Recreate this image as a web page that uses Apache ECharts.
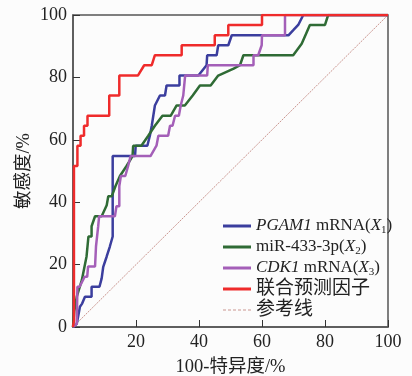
<!DOCTYPE html>
<html>
<head>
<meta charset="utf-8">
<script src="https://cdn.jsdelivr.net/npm/echarts@6/dist/echarts.min.js"></script>
<style>
  html, body { margin: 0; padding: 0; background: #fcfcfc; }
  #chart { width: 412px; height: 376px; }
</style>
</head>
<body>
<div id="chart"></div>
<script>
// ROC 曲线数据 [100-特异度, 敏感度]
var pgam1 = [[0, 0], [1.2, 1], [2.2, 6.5], [2.9, 7.5], [3.8, 9.7], [5.9, 9.7], [5.9, 12.9], [8.4, 12.9], [9.1, 15.6], [9.6, 19.3],
  [10.7, 22.6], [11.7, 25.8], [12.6, 29], [12.6, 54.8], [19.7, 54.8], [19.9, 58.1], [23.6, 58.1], [24.4, 61.3], [25, 64.5],
  [26, 71], [27.6, 74.2], [29.2, 74.2], [29.7, 77.4], [33.8, 77.4], [33.8, 80.6], [39.8, 80.6], [42.4, 83.9], [42.6, 87.1],
  [45.6, 87.1], [46.1, 90.3], [49.3, 90.3], [50.4, 93.5], [68.4, 93.5], [70, 95.2], [71.5, 96.8], [72, 96.8], [73.1, 100], [100, 100]]
var mir433 = [[0, 0], [0.4, 5], [1.2, 9.7], [2.8, 15], [4.3, 22.6], [4.9, 29], [5.9, 29], [5.9, 32.3], [7, 35.5], [9.1, 35.5],
  [10.7, 39], [11.2, 41.9], [12.3, 41.9], [13.5, 45.2], [14.9, 48.4], [17, 51.6], [18.9, 54.8], [19.1, 58.1], [21.7, 58.1],
  [23.9, 61.3], [26, 64.5], [28.4, 67.7], [31, 67.7], [32.9, 71], [35.5, 71], [38, 74.2], [40.3, 77.4], [43.7, 77.4],
  [46.1, 80.6], [51, 82.8], [53, 83.9], [54.1, 87.1], [69.9, 87.1], [72.6, 90.8], [74.2, 94.5], [75.2, 96.8], [80, 96.8],
  [81, 100], [100, 100]]
var cdk1 = [[0, 0], [1.2, 1], [1.4, 12.9], [2.1, 12.9], [3.7, 16.1], [4.5, 16.1], [4.8, 19.4], [7, 19.4], [7.3, 25.8], [8, 32.3],
  [8.3, 35.5], [13.3, 35.5], [13.8, 38.7], [14.7, 38.7], [14.7, 45.2], [15.2, 48.4], [16.6, 48.4], [17.5, 51.6], [18.3, 54.8],
  [24.6, 54.8], [26.5, 58.1], [27.1, 61.3], [30.2, 61.3], [30.8, 64.5], [31.6, 64.5], [32.4, 67.7], [33.6, 67.7], [34.2, 71],
  [35, 74.2], [35.6, 80.6], [42.6, 80.6], [42.8, 83.9], [57.3, 83.9], [57.3, 87.1], [58.8, 87.1], [59.9, 90.3], [60, 93.5],
  [67.3, 93.5], [67.3, 100], [100, 100]]
var combined = [[0, 0], [0.3, 2], [0.3, 51.6], [1.4, 51.6], [1.4, 58.1], [2.4, 58.1], [2.4, 61.3], [3.5, 61.3], [3.5, 64.5],
  [4.6, 64.5], [4.6, 67.7], [11.5, 67.7], [11.5, 74.2], [14.7, 74.2], [14.7, 80.6], [20.6, 80.6], [22.6, 83.9], [25, 83.9],
  [26, 87.1], [34.5, 87.1], [34.5, 90.3], [45, 90.3], [45, 93.5], [49.3, 93.5], [49.3, 96.8], [60, 96.8], [60, 100], [100, 100]]
var refLine = [[0, 0], [100, 100]]

var names = ['PGAM1 mRNA(X1)', 'miR-433-3p(X2)', 'CDK1 mRNA(X3)', '联合预测因子', '参考线']
var colors = ['#3b3e9e', '#2f6b35', '#a45fb8', '#ef2b2b', '#c9958f']

var serif = "'Liberation Serif', 'Noto Sans CJK SC', serif"
var chart = echarts.init(document.getElementById('chart'))

function lineSeries(i, data, width, type) {
  return {
    name: names[i],
    type: 'line',
    data: data,
    symbol: 'none',
    color: colors[i],
    lineStyle: { width: width, color: colors[i], type: type || 'solid' }
  }
}

// 图例：实线用 rect，参考线用虚线
var dashIcon = 'path://M0,0h3v1h-3zM5,0h3v1h-3zM10,0h3v1h-3zM15,0h3v1h-3zM20,0h3v1h-3zM25,0h3v1h-3z'
var legendData = names.map(function(n, i) {
  return { name: n, icon: i === 4 ? dashIcon : 'rect' }
})

var option = {
  animation: false,
  backgroundColor: '#fcfcfc',
  grid: {
    left: 73, right: 24, top: 15, bottom: 49,
    outerBoundsMode: 'none',
    show: true, borderColor: '#555', borderWidth: 1.5
  },
  legend: {
    orient: 'vertical',
    left: 218,
    top: 211,
    itemWidth: 28,
    itemHeight: 3,
    itemGap: 1,
    data: legendData,
    textStyle: {
      fontFamily: serif,
      fontSize: 17,
      lineHeight: 20,
      color: '#222',
      rich: {
        it: { fontFamily: serif, fontSize: 17, lineHeight: 20, fontStyle: 'italic', color: '#222' },
        sub: { fontFamily: serif, fontSize: 11, lineHeight: 20, verticalAlign: 'bottom', padding: [6, 0, 0, 0], color: '#222' },
        cn: { fontFamily: serif, fontSize: 19, lineHeight: 20, color: '#222' }
      }
    },
    formatter: function(name) {
      if (name === names[0]) return '{it|PGAM1} mRNA({it|X}{sub|1})'
      if (name === names[1]) return 'miR-433-3p({it|X}{sub|2})'
      if (name === names[2]) return '{it|CDK1} mRNA({it|X}{sub|3})'
      return '{cn|' + name + '}'
    }
  },
  xAxis: {
    type: 'value',
    min: 0,
    max: 100,
    interval: 20,
    name: '100-特异度/%',
    nameLocation: 'middle',
    nameGap: 31,
    nameTextStyle: { fontFamily: serif, fontSize: 18.5, color: '#222' },
    axisLine: { lineStyle: { color: '#555', width: 1.5 } },
    axisTick: { inside: true, length: 7, lineStyle: { color: '#333' } },
    axisLabel: { showMinLabel: false, margin: 6, fontFamily: serif, fontSize: 18, color: '#222' },
    splitLine: { show: false }
  },
  yAxis: {
    type: 'value',
    min: 0,
    max: 100,
    interval: 20,
    name: '敏感度/%',
    nameLocation: 'middle',
    nameGap: 40,
    nameMoveOverlap: false,
    nameTextStyle: { fontFamily: serif, fontSize: 18.5, color: '#222' },
    axisLine: { lineStyle: { color: '#555', width: 1.5 } },
    axisTick: { inside: true, length: 7, lineStyle: { color: '#333' } },
    axisLabel: { margin: 6, fontFamily: serif, fontSize: 18, color: '#222' },
    splitLine: { show: false }
  },
  series: [
    lineSeries(4, refLine, 1, [2, 1]),
    lineSeries(0, pgam1, 2.5),
    lineSeries(1, mir433, 2.5),
    lineSeries(2, cdk1, 2.5),
    lineSeries(3, combined, 2.5)
  ]
}
chart.setOption(option)
window.addEventListener('resize', function() {
  chart.resize()
})
</script>
</body>
</html>
